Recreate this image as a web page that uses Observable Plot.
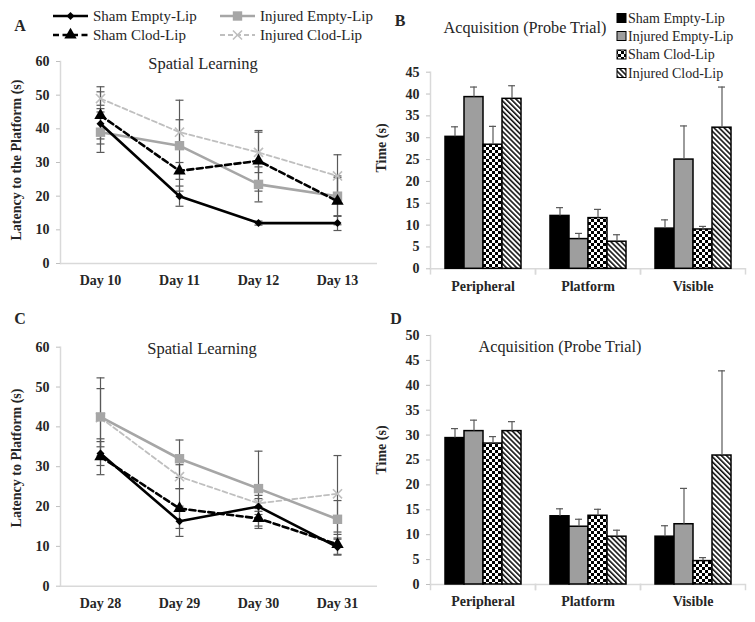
<!DOCTYPE html>
<html><head><meta charset="utf-8">
<script src="https://cdn.jsdelivr.net/npm/d3@7"></script>
<script src="https://cdn.jsdelivr.net/npm/@observablehq/plot@0.6"></script>
<style>
body{margin:0;background:#fff;}
#root{position:relative;width:755px;height:622px;overflow:hidden;background:#fff;}
#root > svg{position:absolute;}
</style></head><body><div id="root"></div>
<script>
// ---------------- DATA ----------------
const seriesNames = ["Sham Empty-Lip", "Injured Empty-Lip", "Sham Clod-Lip", "Injured Clod-Lip"];

// Panel A (Spatial Learning, Days 10-13)
const daysA = ["Day 10", "Day 11", "Day 12", "Day 13"];
const shamEmptyA = [41.5, 20, 12, 12];
const shamEmptyErrA = [4.5, 3, 0.6, 2.2];
const injEmptyA = [39, 35, 23.5, 20];
const injEmptyErrA = [6, 13.5, 5.2, 6];
const shamClodA = [44, 27.5, 30.5, 18.5];
const shamClodErrA = [8.5, 2.5, 9, 7];
const injClodA = [49, 39, 33, 26];
const injClodErrA = [2, 3.7, 6, 6.3];
const yTicksA = [0, 10, 20, 30, 40, 50, 60];

// Panel C (Spatial Learning, Days 28-31)
const daysC = ["Day 28", "Day 29", "Day 30", "Day 31"];
const shamEmptyC = [33.3, 16.3, 20, 9.8];
const shamEmptyErrC = [3, 3.8, 2, 2];
const injEmptyC = [42.5, 32, 24.5, 16.8];
const injEmptyErrC = [9.8, 4.7, 9.4, 4.7];
const shamClodC = [32.5, 19.5, 17, 10.5];
const shamClodErrC = [4.5, 5, 2.5, 2.5];
const injClodC = [42.3, 27.5, 20.8, 23.2];
const injClodErrC = [7.3, 3, 2, 9.6];
const yTicksC = [0, 10, 20, 30, 40, 50, 60];

// Panels B and D (Acquisition, Probe Trial)
const groups = ["Peripheral", "Platform", "Visible"];
const shamEmptyB = [30.2, 12.1, 9.2];
const shamEmptyErrB = [2.3, 1.9, 2];
const injEmptyB = [39.3, 6.8, 25];
const injEmptyErrB = [2.3, 1.3, 7.7];
const shamClodB = [28.4, 11.6, 9];
const shamClodErrB = [4.2, 2, 0.7];
const injClodB = [38.9, 6.2, 32.3];
const injClodErrB = [3, 1.6, 9.3];
const yTicksB = [0, 5, 10, 15, 20, 25, 30, 35, 40, 45];

const shamEmptyD = [29.4, 13.7, 9.6];
const shamEmptyErrD = [1.9, 1.5, 2.2];
const injEmptyD = [30.8, 11.6, 12.1];
const injEmptyErrD = [2.2, 1.5, 7.2];
const shamClodD = [28.3, 13.8, 4.7];
const shamClodErrD = [1.4, 1.3, 0.7];
const injClodD = [30.8, 9.6, 25.9];
const injClodErrD = [1.9, 1.3, 17];
const yTicksD = [0, 5, 10, 15, 20, 25, 30, 35, 40, 45, 50];

// ---------------- STYLE ----------------
const SERIF = "'Liberation Serif','Times New Roman',serif";
const AXIS = "#d9d9d9", ERR = "#595959", TXT = "#262626";
const lineStyle = [
  {stroke: "#000", width: 2.6, dash: null, symbol: "diamond2", fill: "#000", r: 3.6},
  {stroke: "#a6a6a6", width: 2.6, dash: null, symbol: "square", fill: "#a6a6a6", r: 5.3},
  {stroke: "#000", width: 2.6, dash: "6,3.5", symbol: "triangle", fill: "#000", r: 4.6},
  {stroke: "#bfbfbf", width: 1.8, dash: "5,3", symbol: "times", fill: null, r: 4.2}
];
const cap = {draw(ctx) { ctx.moveTo(-4, 0); ctx.lineTo(4, 0); }};

function addPatterns(sel, id) {
  const defs = sel.insert("defs", ":first-child");
  const c = defs.append("pattern").attr("id", "chk" + id).attr("patternUnits", "userSpaceOnUse")
    .attr("width", 6).attr("height", 6);
  c.append("rect").attr("width", 6).attr("height", 6).attr("fill", "#fff");
  c.append("rect").attr("width", 3).attr("height", 3).attr("fill", "#000");
  c.append("rect").attr("x", 3).attr("y", 3).attr("width", 3).attr("height", 3).attr("fill", "#000");
  const h = defs.append("pattern").attr("id", "hat" + id).attr("patternUnits", "userSpaceOnUse")
    .attr("width", 3.6).attr("height", 3.6).attr("patternTransform", "rotate(-45)");
  h.append("rect").attr("width", 3.6).attr("height", 3.6).attr("fill", "#fff");
  h.append("line").attr("x1", 0.8).attr("x2", 0.8).attr("y1", 0).attr("y2", 3.6)
    .attr("stroke", "#000").attr("stroke-width", 1.5);
}
const barFill = id => ["#000", "#9e9e9e", `url(#chk${id})`, `url(#hat${id})`];

const root = document.getElementById("root");
const plotStyle = {fontFamily: SERIF, fontSize: "14px", fontWeight: "bold", color: TXT, background: "transparent", overflow: "visible"};

function linePanel({days, vals, errs, yTicks, left, top, width, height, mt, mb, ml, mr}) {
  const rows = seriesNames.flatMap((s, k) => days.map((d, i) => ({series: s, k, day: d, v: vals[k][i], e: errs[k][i]})));
  const marks = [
    Plot.ruleY([0], {stroke: AXIS, strokeWidth: 1.5}),
    Plot.frame({anchor: "left", stroke: AXIS, strokeWidth: 1.5}),
    Plot.axisY({ticks: yTicks, tickSize: 4, tickPadding: 7, stroke: "#bfbfbf", fill: TXT, label: null}),
    Plot.axisX({tickSize: 0, tickPadding: 12, fill: TXT, label: null}),
    Plot.ruleX(rows, {x: "day", y1: d => d.v - d.e, y2: d => d.v + d.e, stroke: ERR, strokeWidth: 1.2}),
    Plot.dot(rows, {x: "day", y: d => d.v + d.e, symbol: cap, fill: "none", stroke: ERR, strokeWidth: 1.2}),
    Plot.dot(rows, {x: "day", y: d => d.v - d.e, symbol: cap, fill: "none", stroke: ERR, strokeWidth: 1.2})
  ];
  for (const k of [3, 1, 2, 0]) {
    const st = lineStyle[k];
    const data = rows.filter(r => r.k === k);
    marks.push(Plot.line(data, {x: "day", y: "v", stroke: st.stroke, strokeWidth: st.width, strokeDasharray: st.dash || undefined}));
    marks.push(Plot.dot(data, st.fill
      ? {x: "day", y: "v", symbol: st.symbol, r: st.r, fill: st.fill, stroke: "none"}
      : {x: "day", y: "v", symbol: st.symbol, r: st.r, fill: "none", stroke: st.stroke, strokeWidth: 1.6}));
  }
  const svg = Plot.plot({
    width, height, marginTop: mt, marginBottom: mb, marginLeft: ml, marginRight: mr,
    x: {type: "point", domain: days, padding: 0.5},
    y: {domain: [yTicks[0], yTicks[yTicks.length - 1]]},
    style: plotStyle, marks
  });
  svg.style.left = left + "px"; svg.style.top = top + "px";
  root.appendChild(svg);
}

function barPanel({id, vals, errs, yTicks, left, top, width, height, mt, mb, ml, mr}) {
  const rows = seriesNames.flatMap((s, k) => groups.map((g, i) => ({series: s, k, group: g, v: vals[k][i], e: errs[k][i]})));
  const fills = barFill(id);
  const ph = height - mt - mb;
  const marks = [
    Plot.ruleY([0], {stroke: AXIS, strokeWidth: 1.5}),
    Plot.frame({anchor: "left", facetAnchor: "left", stroke: AXIS, strokeWidth: 1.5}),
    Plot.frame({anchor: "left", insetTop: ph, insetBottom: -5, stroke: AXIS, strokeWidth: 1.5}),
    Plot.frame({anchor: "right", insetTop: ph, insetBottom: -5, stroke: AXIS, strokeWidth: 1.5})
  ];
  for (let k = 0; k < 4; k++) {
    marks.push(Plot.barY(rows.filter(r => r.k === k), {fx: "group", x: "series", y: "v", fill: fills[k], stroke: "#000", strokeWidth: 1.5}));
  }
  marks.push(
    Plot.ruleX(rows, {fx: "group", x: "series", y1: "v", y2: d => d.v + d.e, stroke: ERR, strokeWidth: 1.2}),
    Plot.tickY(rows, {fx: "group", x: "series", y: d => d.v + d.e, insetLeft: 6, insetRight: 6, stroke: ERR, strokeWidth: 1.2}),
    Plot.axisY({ticks: yTicks, tickSize: 4, tickPadding: 7, stroke: "#bfbfbf", fill: TXT, label: null}),
    Plot.axisFx({anchor: "bottom", tickSize: 0, tickPadding: 12, fill: TXT, label: null})
  );
  const svg = Plot.plot({
    width, height, marginTop: mt, marginBottom: mb, marginLeft: ml, marginRight: mr,
    fx: {domain: groups, padding: 0},
    x: {domain: seriesNames, paddingInner: 0, paddingOuter: 0.73, axis: null},
    y: {domain: [yTicks[0], yTicks[yTicks.length - 1]]},
    style: plotStyle, marks
  });
  addPatterns(d3.select(svg), id);
  svg.style.left = left + "px"; svg.style.top = top + "px";
  root.appendChild(svg);
}

linePanel({days: daysA, vals: [shamEmptyA, injEmptyA, shamClodA, injClodA],
  errs: [shamEmptyErrA, injEmptyErrA, shamClodErrA, injClodErrA], yTicks: yTicksA,
  left: 0, top: 0, width: 380, height: 300, mt: 61, mb: 37, ml: 60, mr: 3});
linePanel({days: daysC, vals: [shamEmptyC, injEmptyC, shamClodC, injClodC],
  errs: [shamEmptyErrC, injEmptyErrC, shamClodErrC, injClodErrC], yTicks: yTicksC,
  left: 0, top: 300, width: 380, height: 322, mt: 46.7, mb: 36.3, ml: 60, mr: 3});
barPanel({id: "B", vals: [shamEmptyB, injEmptyB, shamClodB, injClodB],
  errs: [shamEmptyErrB, injEmptyErrB, shamClodErrB, injClodErrB], yTicks: yTicksB,
  left: 375, top: 0, width: 380, height: 300, mt: 71.7, mb: 31.7, ml: 55, mr: 10});
barPanel({id: "D", vals: [shamEmptyD, injEmptyD, shamClodD, injClodD],
  errs: [shamEmptyErrD, injEmptyErrD, shamClodErrD, injClodErrD], yTicks: yTicksD,
  left: 375, top: 300, width: 380, height: 322, mt: 35, mb: 38, ml: 55, mr: 10});

// ---------------- TEXT, TITLES, LEGENDS ----------------
const ov = d3.select(root).append("svg").attr("width", 755).attr("height", 622)
  .style("left", "0px").style("top", "0px").style("font-family", SERIF).attr("fill", TXT);
addPatterns(ov, "L");
function txt(x, y, s, {size = 15, weight = "normal", anchor = "start", rotate = 0} = {}) {
  ov.append("text").attr("transform", `translate(${x},${y}) rotate(${rotate})`)
    .attr("text-anchor", anchor).attr("dominant-baseline", "central")
    .attr("font-size", size).attr("font-weight", weight).text(s);
}
txt(20, 25, "A", {size: 16, weight: "bold", anchor: "middle"});
txt(400, 20, "B", {size: 16, weight: "bold", anchor: "middle"});
txt(20, 318, "C", {size: 16, weight: "bold", anchor: "middle"});
txt(396, 318, "D", {size: 16, weight: "bold", anchor: "middle"});
txt(203, 63, "Spatial Learning", {size: 16.5, anchor: "middle"});
txt(202, 348, "Spatial Learning", {size: 16.5, anchor: "middle"});
txt(525, 28, "Acquisition (Probe Trial)", {size: 16.2, anchor: "middle"});
txt(560, 347, "Acquisition (Probe Trial)", {size: 16.2, anchor: "middle"});
txt(16, 160, "Latency to the Platform (s)", {size: 14, weight: "bold", anchor: "middle", rotate: -90});
txt(16, 458, "Latency to Platform (s)", {size: 14, weight: "bold", anchor: "middle", rotate: -90});
txt(381, 148, "Time (s)", {size: 14, weight: "bold", anchor: "middle", rotate: -90});
txt(381, 450, "Time (s)", {size: 14, weight: "bold", anchor: "middle", rotate: -90});

// line legend (panel A)
const legPos = [[53, 16], [220, 16], [53, 35], [220, 35]];
seriesNames.forEach((s, k) => {
  const [x, y] = legPos[k], st = lineStyle[k];
  ov.append("line").attr("x1", x).attr("x2", x + 35).attr("y1", y).attr("y2", y)
    .attr("stroke", st.stroke).attr("stroke-width", st.width).attr("stroke-dasharray", st.dash);
  const sym = d3.symbol().type({diamond2: d3.symbolDiamond2, square: d3.symbolSquare, triangle: d3.symbolTriangle, times: d3.symbolTimes}[st.symbol])
    .size(Math.PI * st.r * st.r);
  ov.append("path").attr("d", sym()).attr("transform", `translate(${x + 17.5},${y})`)
    .attr("fill", st.fill || "none").attr("stroke", st.fill ? "none" : st.stroke).attr("stroke-width", 1.6);
  txt(x + 40, y, s, {size: 15});
});
// bar legend (panel B)
const bf = barFill("L");
seriesNames.forEach((s, k) => {
  const y = [18, 36, 54.5, 73][k];
  ov.append("rect").attr("x", 617).attr("y", y - 4.5).attr("width", 9).attr("height", 9)
    .attr("fill", bf[k]).attr("stroke", "#000").attr("stroke-width", 1);
  txt(628, y, s, {size: 14});
});
</script></body></html>
